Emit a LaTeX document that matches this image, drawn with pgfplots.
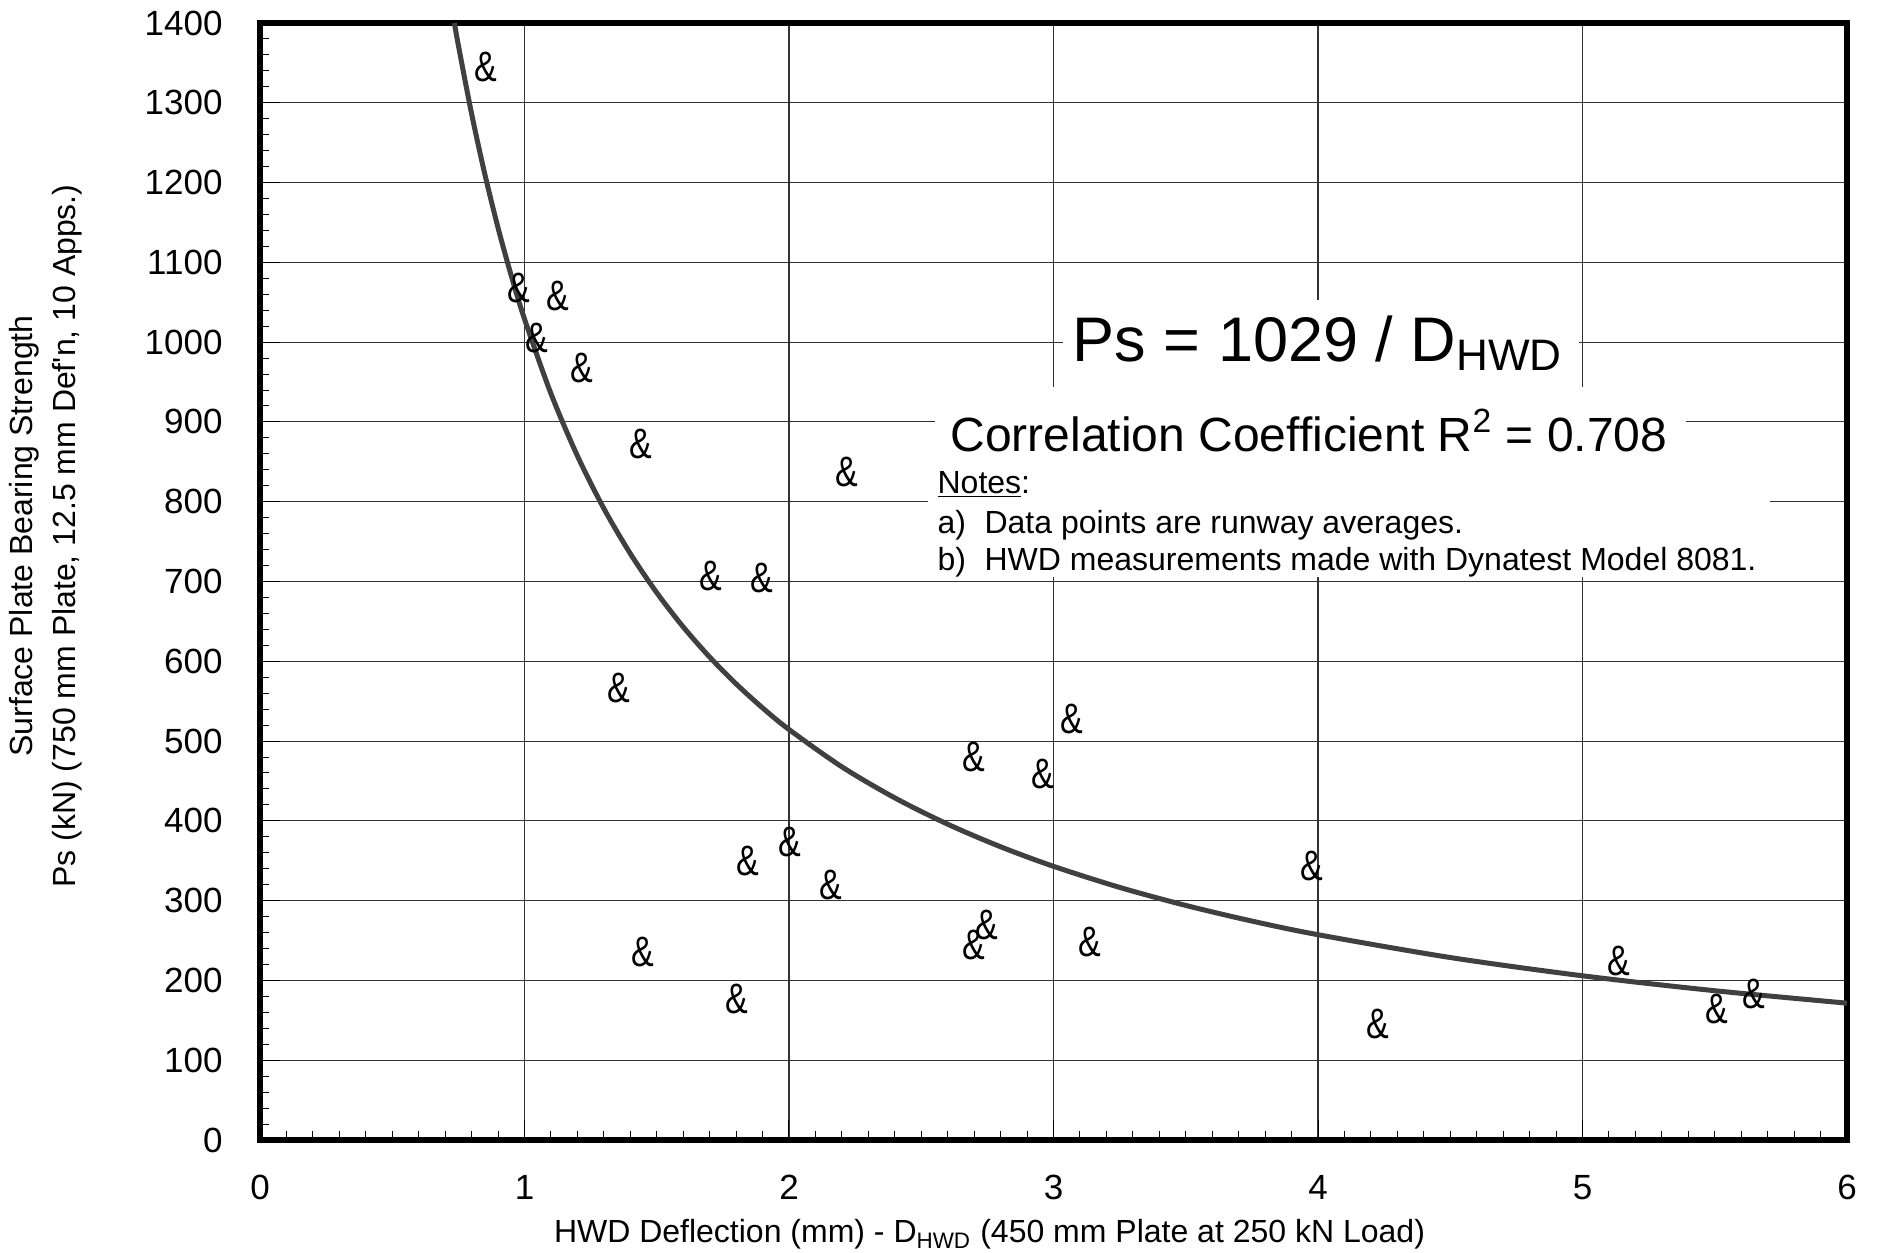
\documentclass[border=0pt]{standalone}
\usepackage{fontspec}
\setmainfont{Liberation Sans}
\newfontfamily\ampfont[FakeStretch=0.8]{Liberation Sans}
\usepackage{pgfplots}
\pgfplotsset{compat=1.18}

\pgfplotstableread{
x y
0.855 1345
0.977 1068
1.127 1058
1.045 1005
1.217 968
1.439 872
2.217 837
1.706 707
1.896 704
1.357 566
3.068 528
2.697 480
2.959 459
2.005 374
1.846 350
2.158 320
3.977 344
2.747 269
2.697 245
3.136 248
1.448 236
1.801 177
5.136 224
4.226 146
5.507 164
5.647 183
}\pts

\pgfplotstableread{
x y
0.735 1400
0.75 1372
0.8 1286.3
0.85 1210.6
0.9 1143.3
0.95 1083.2
1.0 1029
1.1 935.5
1.2 857.5
1.3 791.5
1.4 735
1.5 686
1.6 643.1
1.7 605.3
1.8 571.7
1.9 541.6
2.0 514.5
2.2 467.7
2.4 428.8
2.6 395.8
2.8 367.5
3.0 343
3.25 316.6
3.5 294
3.75 274.4
4.0 257.3
4.5 228.7
5.0 205.8
5.5 187.1
6.0 171.5
}\fit

\begin{document}
\begin{tikzpicture}
\useasboundingbox (-104pt,-45.2pt) rectangle (646.8pt,456pt);
\begin{axis}[
  at={(0pt,0pt)}, anchor=south west,
  scale only axis, width=634.8pt, height=446.8pt,
  xmin=0, xmax=6, ymin=0, ymax=1400,
  xtick={0,1,2,3,4,5,6}, ytick={0,100,...,1400},
  minor x tick num=9, minor y tick num=4,
  tick align=inside, xtick pos=bottom, ytick pos=left,
  major tick length=8pt, minor tick length=3.5pt,
  tick style={black, line width=0.4pt},
  grid=major, major grid style={black!80, line width=0.45pt},
  axis line style={line width=2.2pt},
  /pgf/number format/assume math mode=true,
  /pgf/number format/1000 sep={},
  xticklabel style={font=\fontsize{14}{16}\selectfont, anchor=north, inner sep=0pt, yshift=-14pt},
  yticklabel style={font=\fontsize{14}{16}\selectfont, anchor=east, inner sep=0pt, xshift=-14.8pt},
]
\addplot[color=black!75, line width=2pt, smooth, no marks] table[x=x, y=y] {\fit};
\addplot[only marks, mark=text, text mark={\&}, text mark as node=true,
  text mark style={font=\ampfont\fontsize{17}{20}\selectfont, inner sep=0pt}] table[x=x, y=y] {\pts};

\fill[white] (axis cs:3.036,943.7) rectangle (axis cs:4.987,1052.8);
\fill[white] (axis cs:2.552,849.7) rectangle (axis cs:5.391,943.7);
\fill[white] (axis cs:2.525,705.6) rectangle (axis cs:5.709,849.7);

\node[anchor=base, inner sep=0pt, font=\fontsize{25.2}{30}\selectfont] at (axis cs:4.0,975.7) {Ps = 1029 / D\textsubscript{HWD}};
\node[anchor=base, inner sep=0pt, font=\fontsize{19.2}{24}\selectfont] at (axis cs:3.966,863.5) {Correlation Coefficient R\textsuperscript{2} = 0.708};
\node[anchor=base west, inner sep=0pt, font=\fontsize{12.8}{15}\selectfont] at (axis cs:2.56,810.9) {\underline{Notes}:};
\node[anchor=base west, inner sep=0pt, font=\fontsize{12.8}{15}\selectfont] at (axis cs:2.56,760.7) {\makebox[18.8pt][l]{a)}Data points are runway averages.};
\node[anchor=base west, inner sep=0pt, font=\fontsize{12.8}{15}\selectfont] at (axis cs:2.56,714.4) {\makebox[18.8pt][l]{b)}HWD measurements made with Dynatest Model 8081.};
\end{axis}
\node[rotate=90, inner sep=0pt, font=\fontsize{12.8}{15}\selectfont] at (-94.4pt,241.6pt) {Surface Plate Bearing Strength};
\node[rotate=90, inner sep=0pt, font=\fontsize{12.8}{15}\selectfont] at (-77.2pt,241.6pt) {Ps (kN) (750 mm Plate, 12.5 mm Def\textquotesingle n, 10 Apps.)};
\node[anchor=base, inner sep=0pt, font=\fontsize{12.8}{15}\selectfont] at (291.8pt,-41.2pt) {HWD Deflection (mm) - D\textsubscript{HWD} (450 mm Plate at 250 kN Load)};
\end{tikzpicture}
\end{document}
